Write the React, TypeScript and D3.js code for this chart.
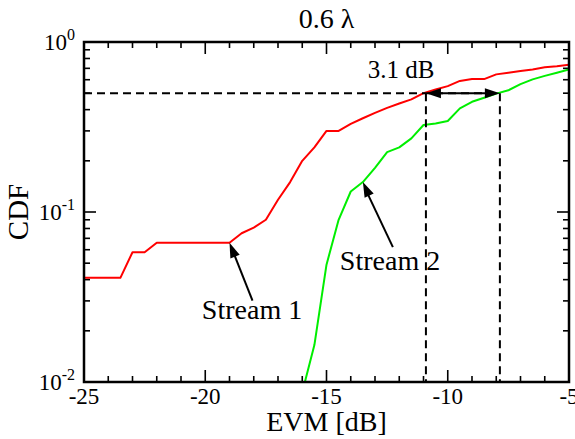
import React from "react";
import * as d3 from "d3";

// Stream 1 (red) and Stream 2 (green), EVM in dB vs CDF
const evm1 = [-25, -23.5, -23, -22.5, -22, -19, -18.5, -18, -17.5, -17, -16.5, -16, -15.5, -15, -14.5, -14, -13.5, -13, -12.5, -12, -11.5, -11, -10.5, -10, -9.5, -9, -8.5, -8, -7.5, -7, -6.5, -6, -5.5, -5];
const cdf1 = [0.041, 0.041, 0.058, 0.058, 0.066, 0.066, 0.075, 0.081, 0.09, 0.118, 0.15, 0.2, 0.24, 0.3, 0.3, 0.33, 0.356, 0.383, 0.41, 0.435, 0.46, 0.5, 0.525, 0.55, 0.59, 0.605, 0.605, 0.645, 0.66, 0.675, 0.69, 0.71, 0.72, 0.735];
const evm2 = [-16, -15.5, -15, -14.5, -14, -13.5, -13, -12.5, -12, -11.5, -11, -10.5, -10, -9.5, -9, -8.5, -8, -7.5, -7, -6.5, -6, -5.5, -5];
const cdf2 = [0.0087, 0.0165, 0.049, 0.09, 0.132, 0.15, 0.182, 0.225, 0.24, 0.271, 0.325, 0.332, 0.343, 0.407, 0.445, 0.47, 0.497, 0.52, 0.565, 0.603, 0.632, 0.66, 0.69];

const xMajor = [-25, -20, -15, -10, -5];
const yMajor = [0.01, 0.1, 1];
const yExp = ["-2", "-1", "0"];

const threshold = 0.5;
const gapLeft = -10.9;
const gapRight = -7.85;
const gapLabel = "3.1 dB";
const title = "0.6 \u03bb";

const W = 575, H = 439;
const margin = {top: 42, right: 6, bottom: 57, left: 84};
const FONT = "Liberation Serif";

export default function App(): React.ReactElement {
  const x = d3.scaleLinear().domain([-25, -5]).range([margin.left, W - margin.right]);
  const y = d3.scaleLog().domain([0.01, 1]).range([H - margin.bottom, margin.top]);
  const x0 = x.range()[0], x1 = x.range()[1];
  const y0 = y.range()[0], y1 = y.range()[1];

  const line = d3.line<[number, number]>().x(d => x(d[0])).y(d => y(d[1]));
  const s1 = line(evm1.map((v, i) => [v, cdf1[i]]) as [number, number][]) || "";
  const s2 = line(evm2.map((v, i) => [v, cdf2[i]]) as [number, number][]) || "";

  const xMinor = d3.range(-25, -4, 1);
  const yMinor: number[] = [];
  [0.01, 0.1].forEach(d => { for (let k = 1; k < 10; k++) yMinor.push(d * k); });
  yMinor.push(1);

  const tickStroke = {stroke: "#000", strokeWidth: 1.6};
  const isMajorX = (v: number) => v % 5 === 0;
  const isMajorY = (v: number) => yMajor.some(m => Math.abs(m - v) < 1e-9);

  const arrowHead = (tx: number, ty: number, fx: number, fy: number, len = 15, half = 5) => {
    const a = Math.atan2(ty - fy, tx - fx);
    const bx = tx - len * Math.cos(a), by = ty - len * Math.sin(a);
    const px = -Math.sin(a) * half, py = Math.cos(a) * half;
    return `M${tx},${ty}L${bx + px},${by + py}L${bx - px},${by - py}Z`;
  };

  const ty = y(threshold);
  const s1tip: [number, number] = [x(-19), y(0.066)];
  const s1tail: [number, number] = [s1tip[0] + 23, s1tip[1] + 58];
  const s2tip: [number, number] = [x(-13.5), y(0.15)];
  const s2tail: [number, number] = [s2tip[0] + 30, s2tip[1] + 65];

  return (
    <svg width={W} height={H} style={{position: "absolute", left: 0, top: 0, background: "#fff"}}>
      <defs>
        <clipPath id="plot">
          <rect x={x0} y={y1} width={x1 - x0} height={y0 - y1} />
        </clipPath>
      </defs>

      <text x={(x0 + x1) / 2} y={28} textAnchor="middle" fontSize={28} fontFamily={FONT}>{title}</text>

      {/* ticks */}
      {xMinor.map(v => {
        const len = isMajorX(v) ? 12 : 6;
        return (
          <g key={"xt" + v}>
            <line x1={x(v)} x2={x(v)} y1={y0} y2={y0 - len} {...tickStroke} />
            <line x1={x(v)} x2={x(v)} y1={y1} y2={y1 + len} {...tickStroke} />
          </g>
        );
      })}
      {yMinor.map((v, i) => {
        const len = isMajorY(v) ? 12 : 6;
        return (
          <g key={"yt" + i}>
            <line x1={x0} x2={x0 + len} y1={y(v)} y2={y(v)} {...tickStroke} />
            <line x1={x1} x2={x1 - len} y1={y(v)} y2={y(v)} {...tickStroke} />
          </g>
        );
      })}

      {/* curves */}
      <g clipPath="url(#plot)" fill="none" strokeWidth={2} strokeLinejoin="round">
        <path d={s1} stroke="#ff0000" />
        <path d={s2} stroke="#00ee00" />
      </g>

      {/* dashed guides */}
      <g stroke="#000" strokeWidth={2} strokeDasharray="8,5" fill="none">
        <line x1={x0} x2={x(gapRight)} y1={ty} y2={ty} />
        <line x1={x(gapLeft)} x2={x(gapLeft)} y1={ty} y2={y0} />
        <line x1={x(gapRight)} x2={x(gapRight)} y1={ty} y2={y0} />
      </g>

      {/* 3.1 dB double arrow */}
      <line x1={x(gapLeft) + 10} x2={x(gapRight) - 10} y1={ty} y2={ty} stroke="#000" strokeWidth={2} />
      <path d={arrowHead(x(gapLeft), ty, x(gapRight), ty)} fill="#000" />
      <path d={arrowHead(x(gapRight), ty, x(gapLeft), ty)} fill="#000" />
      <text x={401} y={78} textAnchor="middle" fontSize={25} fontFamily={FONT}>{gapLabel}</text>

      {/* stream annotations */}
      <line x1={s1tail[0]} y1={s1tail[1]} x2={s1tip[0] + 4} y2={s1tip[1] + 10} stroke="#000" strokeWidth={2} />
      <path d={arrowHead(s1tip[0], s1tip[1], s1tail[0], s1tail[1])} fill="#000" />
      <text x={252} y={319} textAnchor="middle" fontSize={28} fontFamily={FONT}>Stream 1</text>

      <line x1={s2tail[0]} y1={s2tail[1]} x2={s2tip[0] + 4} y2={s2tip[1] + 10} stroke="#000" strokeWidth={2} />
      <path d={arrowHead(s2tip[0], s2tip[1], s2tail[0], s2tail[1])} fill="#000" />
      <text x={390} y={270} textAnchor="middle" fontSize={28} fontFamily={FONT}>Stream 2</text>

      {/* frame */}
      <rect x={x0} y={y1} width={x1 - x0} height={y0 - y1} fill="none" stroke="#000" strokeWidth={2.5} />

      {/* tick labels */}
      {xMajor.map(v => (
        <text key={"xl" + v} x={x(v)} y={y0 + 22} textAnchor="middle" fontSize={23} fontFamily={FONT}>{String(v)}</text>
      ))}
      {yMajor.map((v, i) => (
        <text key={"yl" + v} x={x0 - 9} y={y(v) + 8} textAnchor="end" fontSize={23} fontFamily={FONT}>
          10<tspan dy={-10} fontSize={16}>{yExp[i]}</tspan>
        </text>
      ))}

      <text x={(x0 + x1) / 2} y={431} textAnchor="middle" fontSize={28} fontFamily={FONT}>EVM [dB]</text>
      <text transform={`translate(28,${(y0 + y1) / 2}) rotate(-90)`} textAnchor="middle" fontSize={29} fontFamily={FONT}>CDF</text>
    </svg>
  );
}
